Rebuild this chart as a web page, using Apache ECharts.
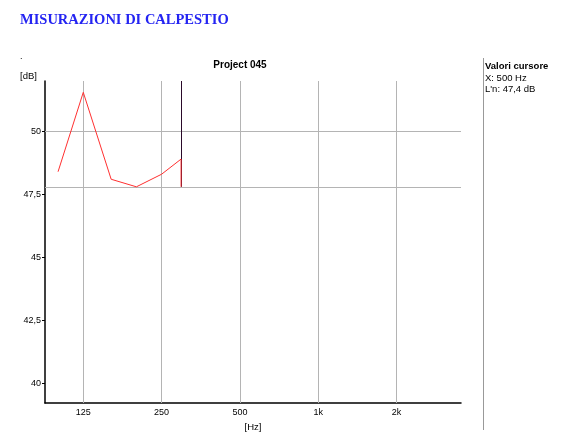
<!DOCTYPE html>
<html>
<head>
<meta charset="utf-8">
<script src="https://cdn.jsdelivr.net/npm/echarts@6/dist/echarts.min.js"></script>
<style>html,body{margin:0;padding:0;background:#fff}#c{width:577px;height:443px}</style>
</head>
<body>
<div id="c"></div>
<script>
// Data
const freqs = [100, 125, 160, 200, 250, 297, 297];
const levels = [48.4, 51.55, 48.1, 47.8, 48.3, 48.9, 47.8];
const xTicks = [125, 250, 500, 1000, 2000];
const xTickLabels = ['125', '250', '500', '1k', '2k'];
const yTicks = [40, 42.5, 45, 47.5, 50];
const hLines = [50, 47.8];
const cursorX = 297;
const cursorTop = 52;
const cursorBottom = 47.8;
const xMin = 89.09, xMax = 3535.7;
const yMin = 39.22, yMax = 52;

const chart = echarts.init(document.getElementById('c'), null, {renderer: 'canvas'});
const lblFont = 'Liberation Sans';
chart.setOption({
  animation: false,
  backgroundColor: '#fff',
  grid: {left: 45, right: 116, top: 81, bottom: 40, containLabel: false},
  title: [
    {text: 'MISURAZIONI DI CALPESTIO', left: 20, top: 13, padding: 0,
     textStyle: {fontFamily: 'Liberation Serif', fontWeight: 'bold', fontSize: 14.5, color: '#2424f2'}},
    {text: 'Project 045', left: 240, top: 60, padding: 0, textAlign: 'center',
     textStyle: {fontFamily: lblFont, fontWeight: 'bold', fontSize: 10, color: '#000'}}
  ],
  xAxis: {
    type: 'log', logBase: 2, min: xMin, max: xMax,
    name: '[Hz]', nameLocation: 'middle', nameGap: 17,
    nameTextStyle: {fontFamily: lblFont, fontSize: 9.5, color: '#000'},
    axisLine: {show: true, onZero: false, lineStyle: {color: '#000', width: 1.5}},
    axisTick: {show: false, customValues: xTicks},
    axisLabel: {customValues: xTicks, fontFamily: lblFont, fontSize: 9, color: '#000', margin: 5,
      formatter: v => { const i = xTicks.indexOf(Math.round(v)); return i >= 0 ? xTickLabels[i] : ''; }},
    splitLine: {show: false}
  },
  yAxis: {
    type: 'value', min: yMin, max: yMax,
    name: '[dB]', nameLocation: 'end', nameGap: 0,
    nameTextStyle: {fontFamily: lblFont, fontSize: 9.5, color: '#000', align: 'right', verticalAlign: 'bottom', padding: [0, 8, 0, 0]},
    axisLine: {show: true, onZero: false, lineStyle: {color: '#000', width: 1.5}},
    axisTick: {show: true, customValues: yTicks, length: 3, lineStyle: {color: '#000'}},
    axisLabel: {customValues: yTicks, fontFamily: lblFont, fontSize: 9, color: '#000', margin: 4,
      formatter: v => String(v).replace('.', ',')},
    splitLine: {show: false}
  },
  graphic: [
    {type: 'line', shape: {x1: 483.5, y1: 58, x2: 483.5, y2: 430}, style: {stroke: '#999', lineWidth: 1}},
    {type: 'text', left: 485, top: 61, style: {text: 'Valori cursore', font: 'bold 9.5px Liberation Sans', fill: '#000'}},
    {type: 'text', left: 485, top: 73, style: {text: 'X: 500 Hz', font: '9.5px Liberation Sans', fill: '#000'}},
    {type: 'text', left: 485, top: 84, style: {text: "L'n: 47,4 dB", font: '9.5px Liberation Sans', fill: '#000'}},
    {type: 'text', left: 20, top: 52, style: {text: '.', font: '9px Liberation Sans', fill: '#000'}}
  ],
  series: [
    {
      type: 'line', data: freqs.map((f, i) => [f, levels[i]]),
      symbol: 'none', lineStyle: {color: '#ff3030', width: 1}, z: 5,
      markLine: {
        silent: true, symbol: 'none', label: {show: false},
        lineStyle: {color: '#b4b4b4', width: 1, type: 'solid'},
        data: xTicks.map(v => ({xAxis: v})).concat(hLines.map(v => ({yAxis: v})))
      }
    },
    {
      type: 'line', data: [], symbol: 'none', z: 6,
      markLine: {
        silent: true, symbol: 'none', label: {show: false},
        lineStyle: {color: '#2a0a2a', width: 1, type: 'solid'},
        data: [[{coord: [cursorX, cursorTop]}, {coord: [cursorX, cursorBottom]}]]
      }
    }
  ]
});
</script>
</body>
</html>
